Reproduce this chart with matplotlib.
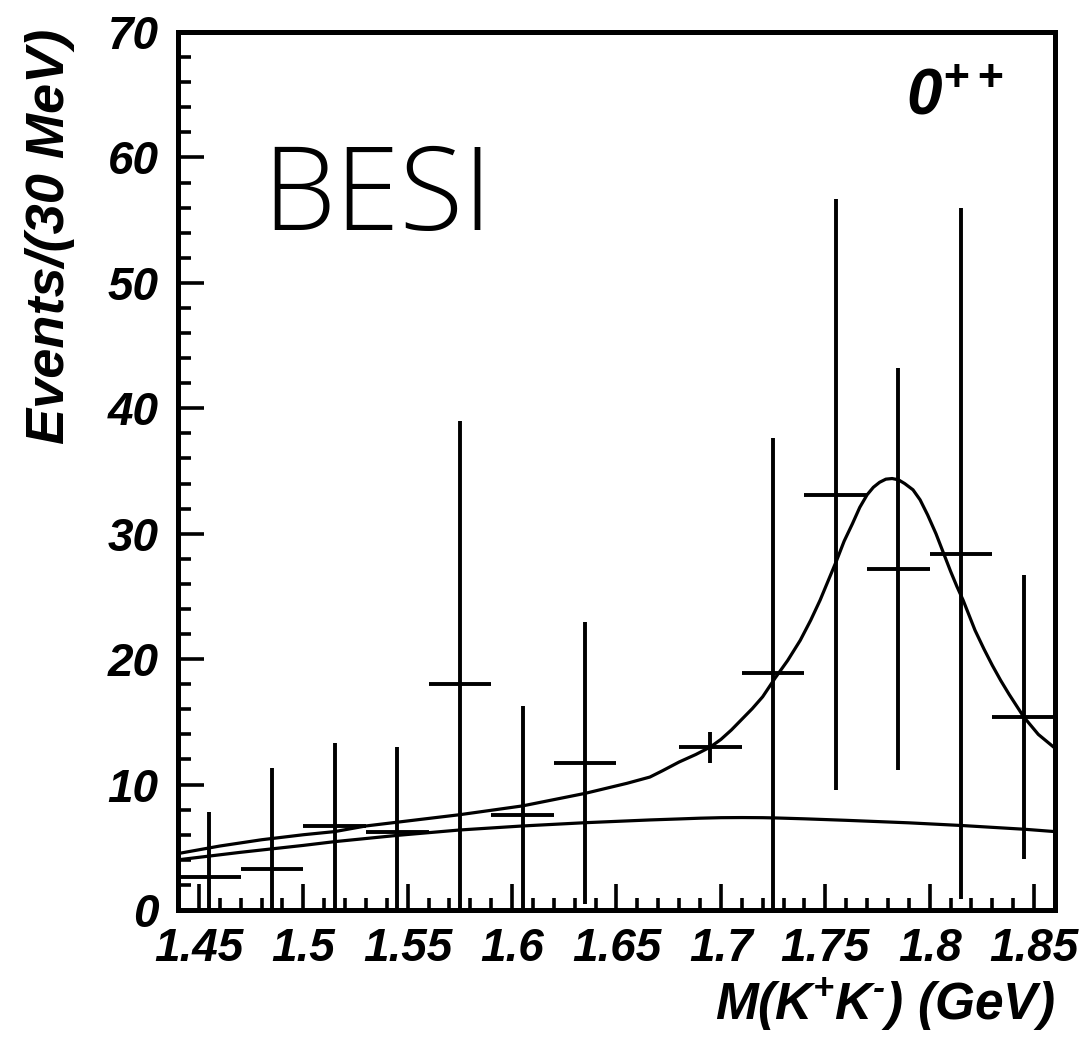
import matplotlib
matplotlib.use("Agg")
import matplotlib.pyplot as plt
import numpy as np

# data points (bin centre, value, lower / upper end of error bar)
mass = [1.455, 1.485, 1.515, 1.545, 1.575, 1.605, 1.635, 1.695, 1.725, 1.755, 1.785, 1.815, 1.845]
events = [2.6, 3.3, 6.7, 6.2, 18.0, 7.6, 11.75, 13.0, 18.9, 33.1, 27.2, 28.4, 15.4]
err_hi = [7.8, 11.3, 13.3, 13.0, 39.0, 16.3, 23.0, 14.2, 37.6, 56.7, 43.2, 56.0, 26.7]
err_lo = [0.0, 0.0, 0.0, 0.0, 0.0, 0.0, 0.5, 11.75, 0.0, 9.6, 11.2, 0.9, 4.1]
bin_half = 0.015

# total fit curve
fit_x = [1.44, 1.46, 1.48, 1.50, 1.515, 1.53, 1.55, 1.575, 1.605, 1.635, 1.655, 1.666,
         1.672, 1.68, 1.688, 1.695, 1.70, 1.705, 1.71, 1.715, 1.72, 1.726, 1.732, 1.738,
         1.743, 1.7475, 1.7515, 1.7555, 1.759, 1.763, 1.7665, 1.770, 1.773, 1.776, 1.779,
         1.782, 1.785, 1.788, 1.792, 1.7954, 1.799, 1.803, 1.8065, 1.810, 1.813, 1.816,
         1.8217, 1.826, 1.830, 1.834, 1.838, 1.845, 1.852, 1.86]
fit_y = [4.5, 5.1, 5.6, 6.0, 6.25, 6.7, 7.1, 7.6, 8.3, 9.3, 10.1, 10.6,
         11.1, 11.8, 12.4, 13.0, 13.6, 14.35, 15.2, 16.05, 17.0, 18.5, 19.9, 21.5,
         23.1, 24.7, 26.3, 27.9, 29.4, 30.8, 32.1, 33.1, 33.7, 34.1, 34.35,
         34.4, 34.3, 34.0, 33.5, 32.7, 31.5, 30.0, 28.5, 27.0, 25.8, 24.7,
         22.3, 20.8, 19.5, 18.3, 17.2, 15.4, 14.0, 12.9]

# background curve
bkg_x = [1.44, 1.47, 1.50, 1.515, 1.545, 1.575, 1.605, 1.635, 1.666, 1.68, 1.69,
         1.70, 1.71, 1.72, 1.726, 1.74, 1.76, 1.79, 1.816, 1.846, 1.86]
bkg_y = [4.0, 4.6, 5.15, 5.45, 5.95, 6.38, 6.7, 6.96, 7.18, 7.26, 7.32,
         7.36, 7.37, 7.36, 7.34, 7.27, 7.15, 6.95, 6.73, 6.43, 6.25]

xticks = [1.45, 1.5, 1.55, 1.6, 1.65, 1.7, 1.75, 1.8, 1.85]
xticklabels = ["1.45", "1.5", "1.55", "1.6", "1.65", "1.7", "1.75", "1.8", "1.85"]
yticks = [0, 10, 20, 30, 40, 50, 60, 70]

plt.rcParams["font.family"] = ["Liberation Sans", "DejaVu Sans"]
plt.rcParams["font.weight"] = "bold"
plt.rcParams["font.style"] = "italic"
plt.rcParams["mathtext.fontset"] = "custom"
plt.rcParams["mathtext.rm"] = "Liberation Sans:bold:italic"
plt.rcParams["mathtext.it"] = "Liberation Sans:bold:italic"
plt.rcParams["mathtext.bf"] = "Liberation Sans:bold:italic"

fig = plt.figure(figsize=(10.92, 10.40), dpi=100)
ax = fig.add_axes([178 / 1092, 130 / 1040, 877 / 1092, 878 / 1040])

lo = np.array(events) - np.array(err_lo)
hi = np.array(err_hi) - np.array(events)
ax.errorbar(mass, events, xerr=bin_half, yerr=[lo, hi], fmt="none",
            ecolor="black", elinewidth=2.8, capsize=0)

ax.plot(fit_x, fit_y, color="black", lw=2.3)
ax.plot(bkg_x, bkg_y, color="black", lw=2.3)

ax.set_xlim(1.44, 1.86)
ax.set_ylim(0, 70)
ax.set_xticks(xticks)
ax.set_xticklabels(xticklabels)
ax.set_yticks(yticks)
ax.set_xticks(np.arange(1.44, 1.861, 0.01), minor=True)
ax.set_yticks(np.arange(0, 70.1, 2), minor=True)

for s in ax.spines.values():
    s.set_linewidth(3.6)
ax.tick_params(which="both", direction="in", top=False, right=False, width=2.6)
ax.tick_params(which="major", length=19, labelsize=33)
ax.tick_params(which="minor", length=9)
ax.tick_params(axis="x", which="major", pad=12)
ax.tick_params(axis="y", which="major", pad=14)

ax.text(0.096, 0.775, "BESI", transform=ax.transAxes, fontsize=84,
        family=["Open Sans", "Roboto", "DejaVu Sans"], fontweight="light",
        fontstyle="normal", va="baseline", ha="left")
ax.text(0.83, 0.905, r"0$^{++}$", transform=ax.transAxes, fontsize=46,
        va="baseline", ha="left")

fig.text(0.046, 0.972, "Events/(30 MeV)", rotation=90, fontsize=39,
         ha="center", va="top")
fig.text(1055 / 1092, 20 / 1040, r"M(K$^{+}$K$^{\text{-}}$) (GeV)", fontsize=37,
         ha="right", va="baseline")

fig.savefig("out.png", dpi=100)
